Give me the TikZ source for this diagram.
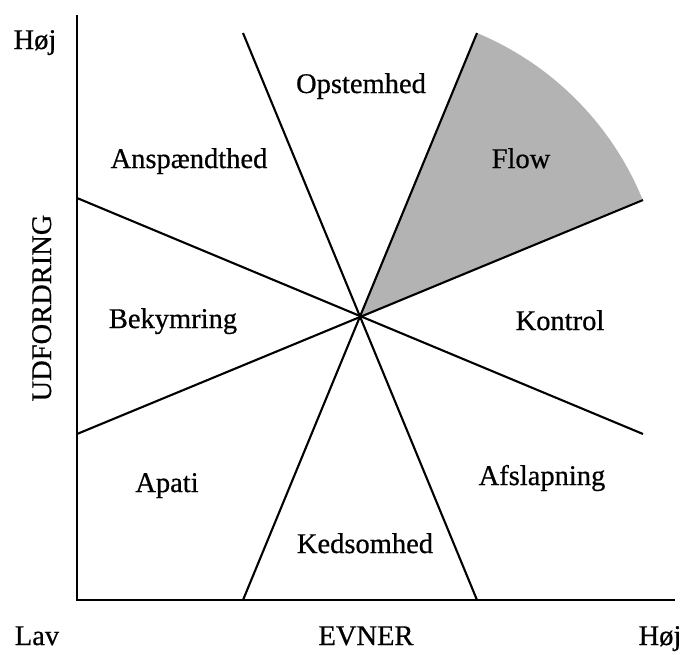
\documentclass[tikz,border=0pt]{standalone}
\usepackage{fontspec}
\setmainfont{Liberation Serif}[FakeBold=0.6]
\definecolor{flowgray}{RGB}{179,179,179}
\begin{document}
\begin{tikzpicture}[x=1pt,y=-1pt,
  axisline/.style={line width=2.3pt},
  divider/.style={line width=2.1pt},
  zone/.style={anchor=base,inner sep=0pt,font=\fontsize{28.5}{34}\selectfont},
]
\useasboundingbox (0,0) rectangle (683,654);

% centre of the diagram and end points of the dividing lines
\coordinate (c) at (359,317);
\coordinate (t1) at (243,33);
\coordinate (t2) at (477,33);
\coordinate (b1) at (243,600);
\coordinate (b2) at (477,600);
\coordinate (l1) at (77,198);
\coordinate (l2) at (77,434);
\coordinate (r1) at (643,200);
\coordinate (r2) at (643,434);
\coordinate (origin) at (77,600);
\coordinate (ytop) at (77,15);
\coordinate (xend) at (675,600);

% shaded flow sector
\fill[flowgray] (c) -- (t2) arc[start angle=-67.4,end angle=-22.4,radius=306] -- cycle;

% dividing lines through the centre
\draw[divider] (t1) -- (b2);
\draw[divider] (t2) -- (b1);
\draw[divider] (l1) -- (r2);
\draw[divider] (l2) -- (r1);

% axes
\draw[axisline] (ytop) -- (origin) -- (xend);

% zone labels
\node[zone] (opst) at (361,93) {Opstemhed};
\node[zone] (ansp) at (189,168) {Anspændthed};
\node[zone] (flow) at (521,168) {Flow};
\node[zone] (beky) at (173,328) {Bekymring};
\node[zone] (kont) at (560,330) {Kontrol};
\node[zone] (apat) at (167,492) {Apati};
\node[zone] (afsl) at (542,485) {Afslapning};
\node[zone] (keds) at (365,553) {Kedsomhed};

% axis labels
\node[zone] (yhigh) at (35,49) {Høj};
\node[zone] (xlow) at (37,645) {Lav};
\node[zone] (xname) at (366,645) {EVNER};
\node[zone] (xhigh) at (660,645) {Høj};
\node[zone,rotate=90] (yname) at (51,308) {UDFORDRING};
\end{tikzpicture}
\end{document}
